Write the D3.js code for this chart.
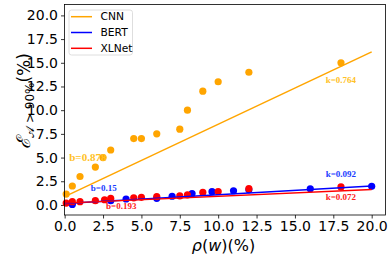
<!DOCTYPE html>
<html>
<head>
<meta charset="utf-8">
<script src="https://d3js.org/d3.v7.min.js"></script>
<style>
  body { margin: 0; background: #fff; }
  .tick text { font-family: "DejaVu Sans", sans-serif; font-size: 14px; fill: #000; }
  .ann { font-family: "Liberation Serif", serif; font-weight: bold; }
</style>
</head>
<body>
<div id="chart"></div>
<script>
// CNN points
let cnnX = [0.1, 0.5, 1, 2, 2.5, 3, 4.5, 5, 6, 7.5, 8, 9, 10, 12, 18];
let cnnY = [1.15, 2.0, 3.0, 4.0, 5.0, 5.8, 7.0, 7.0, 7.5, 8.0, 10.0, 12.0, 13.0, 14.0, 15.0];
// BERT points
let bertX = [0.5, 3, 4, 6, 7, 8.3, 9.6, 11, 12, 16, 20];
let bertY = [0.05, 0.45, 0.63, 0.7, 0.92, 1.2, 1.4, 1.5, 1.6, 1.7, 1.97];
// XLNet points
let xlX = [0.1, 0.5, 1, 2, 2.6, 3, 4.5, 5, 6, 7.5, 8, 9, 10, 12, 18];
let xlY = [0.2, 0.35, 0.35, 0.45, 0.55, 0.7, 0.75, 0.8, 0.88, 0.95, 1.06, 1.32, 1.42, 1.72, 1.9];

// fitted lines: k, b
let series = [
  {name: "CNN", color: "#FFA500", x: cnnX, y: cnnY, k: 0.764, b: 0.878},
  {name: "BERT", color: "#0000FF", x: bertX, y: bertY, k: 0.092, b: 0.15},
  {name: "XLNet", color: "#FF0000", x: xlX, y: xlY, k: 0.072, b: 0.193}
];

let xTicks = [0, 2.5, 5, 7.5, 10, 12.5, 15, 17.5, 20];
let yTicks = [0, 2.5, 5, 7.5, 10, 12.5, 15, 17.5, 20];

let width = 391, height = 256;
let mLeft = 64.5, mRight = 385.5, mTop = 4.5, mBottom = 215;

let x = d3.scaleLinear().domain([-0.01, 20.9]).range([mLeft, mRight]);
let y = d3.scaleLinear().domain([-1.06, 21.15]).range([mBottom, mTop]);

let svg = d3.select("#chart").append("svg")
    .attr("width", width)
    .attr("height", height);

// axes
svg.append("g")
    .attr("transform", "translate(0," + mBottom + ")")
    .call(d3.axisBottom(x).tickValues(xTicks).tickFormat(d3.format(".1f")).tickSizeOuter(0).tickSize(3.5).tickPadding(3))
    .call(g => g.select(".domain").remove());

svg.append("g")
    .attr("transform", "translate(" + mLeft + ",0)")
    .call(d3.axisLeft(y).tickValues(yTicks).tickFormat(d3.format(".1f")).tickSizeOuter(0).tickSize(3.5).tickPadding(3))
    .call(g => g.select(".domain").remove());

svg.selectAll(".tick line").attr("stroke", "#000").attr("stroke-width", 0.8);

// points and fitted lines
series.forEach(s => {
  svg.append("g").selectAll("circle")
    .data(s.x.map((v, i) => [v, s.y[i]]))
    .enter().append("circle")
      .attr("cx", d => x(d[0]))
      .attr("cy", d => y(d[1]))
      .attr("r", 3.6)
      .attr("fill", s.color);
});
series.forEach(s => {
  svg.append("line")
    .attr("x1", x(0)).attr("y1", y(s.b))
    .attr("x2", x(20)).attr("y2", y(s.k * 20 + s.b))
    .attr("stroke", s.color)
    .attr("stroke-width", 1.5);
});

// annotations
let anns = [
  {t: "k=0.764", x: 17.0, y: 12.9, c: "#FFC125", s: 9},
  {t: "b=0.878", x: 0.3, y: 4.6, c: "#FFC125", s: 11},
  {t: "b=0.15", x: 1.7, y: 1.5, c: "#1a3cff", s: 9},
  {t: "b=0.193", x: 2.7, y: -0.45, c: "#ff2020", s: 9},
  {t: "k=0.092", x: 17.0, y: 3.0, c: "#1a3cff", s: 9},
  {t: "k=0.072", x: 17.0, y: 0.5, c: "#ff2020", s: 9}
];
svg.append("g").selectAll("text")
  .data(anns)
  .enter().append("text")
    .attr("class", "ann")
    .attr("x", d => x(d.x))
    .attr("y", d => y(d.y))
    .attr("font-size", d => d.s)
    .attr("fill", d => d.c)
    .text(d => d.t);

// frame
svg.append("rect")
    .attr("x", mLeft).attr("y", mTop)
    .attr("width", mRight - mLeft).attr("height", mBottom - mTop)
    .attr("fill", "none").attr("stroke", "#000").attr("stroke-width", 0.8);

// legend
let lg = svg.append("g").attr("transform", "translate(69,10)");
lg.append("rect")
    .attr("width", 63.5).attr("height", 45)
    .attr("rx", 2.5)
    .attr("fill", "#fff").attr("fill-opacity", 0.8)
    .attr("stroke", "#d5d5d5").attr("stroke-width", 0.8);
series.forEach((s, i) => {
  lg.append("line")
    .attr("x1", 2).attr("x2", 23)
    .attr("y1", 6.7 + i * 15.8).attr("y2", 6.7 + i * 15.8)
    .attr("stroke", s.color).attr("stroke-width", 1.5);
  lg.append("text")
    .attr("x", 31.5).attr("y", 6.7 + i * 15.8)
    .attr("dy", "0.35em")
    .attr("font-family", "DejaVu Sans, sans-serif")
    .attr("font-size", 10.7)
    .text(s.name);
});

// axis labels
svg.append("text")
    .attr("x", 223.5).attr("y", 251)
    .attr("text-anchor", "middle")
    .attr("font-family", "DejaVu Sans, sans-serif")
    .attr("font-size", 16)
    .html("<tspan font-style='italic'>ρ</tspan>(<tspan font-style='italic'>w</tspan>)(%)");

let yl = svg.append("text")
    .attr("transform", "translate(30,101) rotate(-90)")
    .attr("text-anchor", "middle")
    .attr("font-family", "DejaVu Sans, sans-serif")
    .attr("font-size", 17);
yl.append("tspan").attr("font-style", "italic").attr("font-family", "DejaVu Serif, serif").attr("font-size", 19).text("ℰ");
yl.append("tspan").attr("font-size", 12).attr("dy", 4).text("𝒜 > 90%");
yl.append("tspan").attr("dy", -4).text("(%)");
</script>
</body>
</html>
